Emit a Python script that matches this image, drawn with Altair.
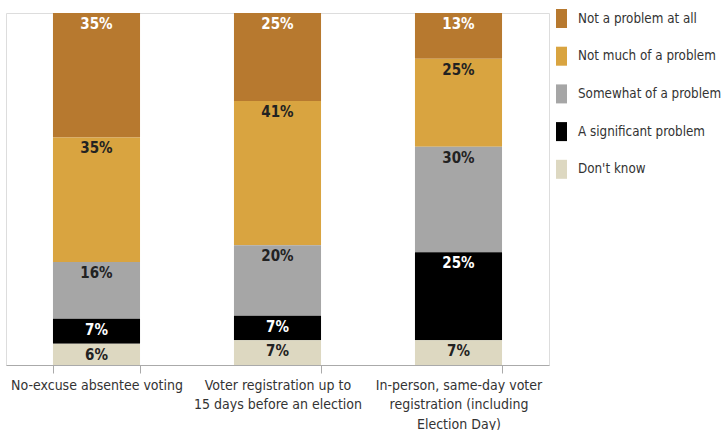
import altair as alt
import pandas as pd

categories = [
    "No-excuse absentee voting",
    "Voter registration up to\n15 days before an election",
    "In-person, same-day voter\nregistration (including\nElection Day)",
]
series = [
    "Not a problem at all",
    "Not much of a problem",
    "Somewhat of a problem",
    "A significant problem",
    "Don't know",
]
colors = ["#B7792F", "#D9A440", "#A6A6A6", "#000000", "#DDD8C1"]
label_colors = ["#FFFFFF", "#222222", "#222222", "#FFFFFF", "#222222"]
values = {
    "Not a problem at all": [35, 25, 13],
    "Not much of a problem": [35, 41, 25],
    "Somewhat of a problem": [16, 20, 30],
    "A significant problem": [7, 7, 25],
    "Don't know": [6, 7, 7],
}

rows = []
for si, s in enumerate(series):
    for ci, c in enumerate(categories):
        rows.append({
            "category": c,
            "series": s,
            "value": values[s][ci],
            "order": len(series) - si,
            "label": f"{values[s][ci]}%",
            "lcolor": label_colors[si],
        })
df = pd.DataFrame(rows)

FONT = "DejaVu Sans Condensed, Roboto, sans-serif"

base = alt.Chart(df).transform_stack(
    stack="value",
    groupby=["category"],
    sort=[alt.SortField("order", order="ascending")],
    as_=["y0", "y1"],
    offset="normalize",
)

x_enc = alt.X(
    "category:N",
    sort=categories,
    title=None,
    scale=alt.Scale(paddingInner=0.519, paddingOuter=0.2595),
    axis=alt.Axis(
        labelAngle=0,
        labelExpr="split(datum.label, '\\n')",
        labelFont=FONT,
        labelFontSize=14,
        labelColor="#333333",
        labelLineHeight=19.5,
        labelPadding=5,
        labelLimit=0,
        tickBand="extent",
        tickSize=8,
        tickColor="#AAAAAA",
        domainColor="#AAAAAA",
        labelBaseline="top",
    ),
)

bars = base.mark_bar().encode(
    x=x_enc,
    y=alt.Y("y0:Q", axis=None, scale=alt.Scale(domain=[0, 1])),
    y2="y1:Q",
    color=alt.Color(
        "series:N",
        sort=series,
        scale=alt.Scale(domain=series, range=colors),
        legend=alt.Legend(
            title=None,
            orient="none",
            legendX=546,
            legendY=-4,
            padding=0,
            symbolType="M-0.579,-1L0.579,-1L0.579,1L-0.579,1Z",
            symbolSize=361,
            symbolStrokeWidth=0,
            symbolOpacity=1,
            labelFont=FONT,
            labelFontSize=13.3,
            labelColor="#333333",
            labelOffset=7,
            rowPadding=18.7,
            labelLimit=0,
        ),
    ),
)

texts = base.mark_text(
    font=FONT, fontSize=15, fontWeight="bold", baseline="middle", dy=11
).encode(
    x=alt.X("category:N", sort=categories),
    y=alt.Y("y1:Q"),
    text="label:N",
    color=alt.Color("lcolor:N", scale=None, legend=None),
)

chart = (
    alt.layer(bars, texts)
    .properties(
        width=543,
        height=352,
        padding={"left": 6, "top": 9, "right": 0, "bottom": 0},
    )
    .configure_view(stroke=None)
    .configure(background="white")
)

chart.save("out.html", embed_options={"renderer": "svg", "actions": False})
